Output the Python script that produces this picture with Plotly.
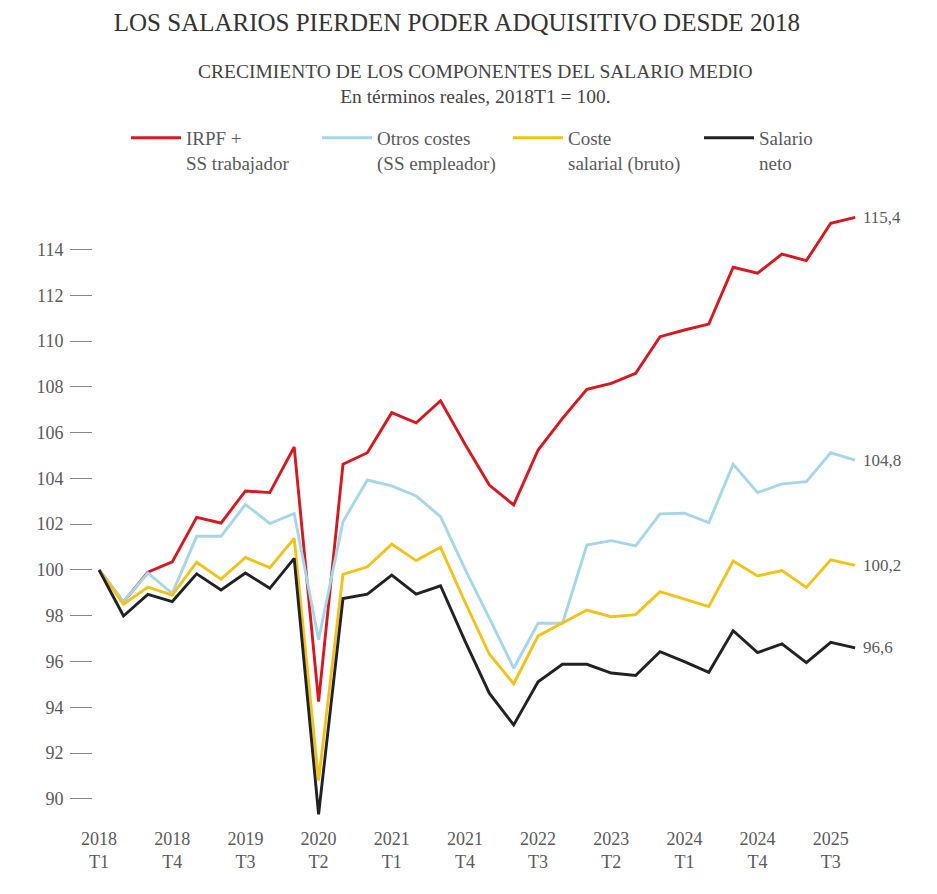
import plotly.graph_objects as go

quarters = [f"{y}T{q}" for y in range(2018, 2026) for q in range(1, 5)]

irpf_ss = [100.0, 98.6, 99.9, 100.35, 102.3, 102.05, 103.45, 103.38, 105.37, 94.25,
           104.62, 105.12, 106.87, 106.43, 107.39, 105.5, 103.71, 102.84, 105.24, 106.62,
           107.89, 108.15, 108.59, 110.19, 110.48, 110.74, 113.22, 112.96, 113.8, 113.51,
           115.14, 115.4]
otros_costes = [100.0, 98.62, 99.87, 98.98, 101.47, 101.47, 102.86, 102.03, 102.47, 96.95,
                102.11, 103.93, 103.67, 103.23, 102.33, 100.05, 97.9, 95.71, 97.67, 97.67,
                101.09, 101.28, 101.05, 102.45, 102.48, 102.07, 104.62, 103.38, 103.76, 103.86,
                105.12, 104.8]
coste_salarial = [100.0, 98.5, 99.25, 98.9, 100.34, 99.6, 100.55, 100.1, 101.38, 90.8,
                  99.81, 100.14, 101.13, 100.41, 100.99, 98.6, 96.33, 95.03, 97.12, 97.67,
                  98.25, 97.96, 98.05, 99.05, 98.72, 98.4, 100.39, 99.74, 99.97, 99.24,
                  100.44, 100.2]
salario_neto = [100.0, 97.99, 98.93, 98.62, 99.83, 99.13, 99.87, 99.2, 100.51, 89.33,
                98.75, 98.94, 99.78, 98.94, 99.31, 96.9, 94.62, 93.23, 95.12, 95.88,
                95.88, 95.5, 95.39, 96.43, 96.0, 95.53, 97.35, 96.39, 96.77, 95.95,
                96.84, 96.6]

series_names = ["IRPF +<br>SS trabajador", "Otros costes<br>(SS empleador)",
                "Coste<br>salarial (bruto)", "Salario<br>neto"]
series_values = [irpf_ss, otros_costes, coste_salarial, salario_neto]
series_colors = ["#d8171f", "#a6d7e6", "#f2c219", "#222222"]

tick_quarters = quarters[0::3]
tick_labels = [q.replace("T", "<br>T") for q in tick_quarters]
y_ticks = list(range(90, 115, 2))

FONT = "Liberation Serif"
GRAY = "#5a5a5a"

fig = go.Figure()
for name, vals, col in zip(series_names, series_values, series_colors):
    fig.add_trace(go.Scatter(x=quarters, y=vals, mode="lines", name=name,
                             line=dict(color=col, width=2.9), cliponaxis=False))

for vals in series_values:
    fig.add_annotation(x=quarters[-1], y=vals[-1], xref="x", yref="y",
                       text=f"{vals[-1]:.1f}".replace(".", ","),
                       showarrow=False, xanchor="left", xshift=6,
                       font=dict(family=FONT, size=17, color=GRAY))

fig.add_annotation(xref="paper", yref="paper", x=0.4993, y=1.197, yanchor="middle",
                   text="CRECIMIENTO DE LOS COMPONENTES DEL SALARIO MEDIO<br>En términos reales, 2018T1 = 100.",
                   showarrow=False, font=dict(family=FONT, size=19.5, color="#444444"))

fig.update_layout(
    width=937, height=894,
    margin=dict(l=85, r=85, t=197, b=82),
    paper_bgcolor="white", plot_bgcolor="white",
    title=dict(text="LOS SALARIOS PIERDEN PODER ADQUISITIVO DESDE 2018",
               xref="container", yref="container", x=0.479, y=0.984,
               xanchor="center", yanchor="middle",
               font=dict(family=FONT, size=25, color="#333333")),
    showlegend=True,
    legend=dict(orientation="h", x=0.043, y=1.14, xanchor="left", yanchor="top",
                valign="top", entrywidth=126, entrywidthmode="pixels",
                font=dict(family=FONT, size=19, color=GRAY), itemwidth=50,
                bgcolor="rgba(0,0,0,0)"),
    xaxis=dict(type="category", range=[-0.25, 31.2], tickvals=tick_quarters,
               ticktext=tick_labels, showgrid=False, zeroline=False, showline=False,
               ticks="", ticklabelstandoff=6,
               tickfont=dict(family=FONT, size=18, color=GRAY)),
    yaxis=dict(range=[89.08, 115.94], tickvals=y_ticks, showgrid=False, zeroline=False,
               showline=False, ticks="outside", ticklen=22, tickcolor="#888888",
               tickwidth=1.2, ticklabelstandoff=3,
               tickfont=dict(family=FONT, size=18, color=GRAY)),
)

fig.write_html("out.html")
